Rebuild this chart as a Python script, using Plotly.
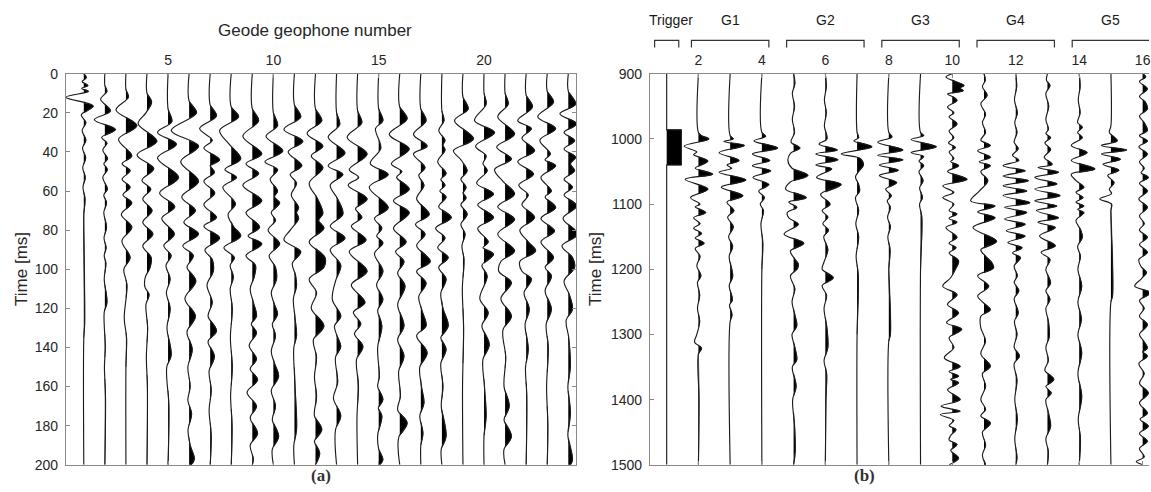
import plotly.graph_objects as go

# ---------------- Panel (a): Geode geophones, time 0-200 ms ----------------
# each trace: (time ms, amplitude in trace-spacing units) read at extrema
a01 = [(0,0),(2,0.12),(4,-0.08),(6,0.2),(7.5,-0.1),(9,0.22),(12,-0.85),(16.5,0.45),(21,-0.12),(25,0.1),(29,-0.08),(34,0.1),(38,-0.06),(43,0.09),(48,-0.05),(53,0.07),(58,-0.04),(64,0.06),(72,0),(128,0.04),(135,0),(200,0)]
a02 = [(0,0),(6,0),(9,0.1),(13,-0.2),(19,0.27),(23.5,-0.5),(28.5,0.5),(32.5,-0.15),(35.5,0.1),(39,-0.1),(43.5,0.13),(46,-0.05),(49,0.12),(53,-0.1),(59,0.12),(62,-0.05),(66,0.08),(71,-0.05),(78.5,0.08),(84,-0.04),(89,0.06),(93,-0.03),(97,0.05),(105,-0.03),(117,0.1),(122,-0.03),(140,0.02),(150,-0.02),(165,0.03),(200,0)]
a03 = [(0,0),(8,0),(12,0.12),(18.5,-0.47),(26.5,0.52),(33.5,-0.35),(42,0.28),(46,-0.18),(49.5,0.2),(54,-0.18),(58,0.2),(62,-0.14),(66,0.28),(72,-0.22),(78.5,0.28),(85.5,-0.19),(94,0.2),(100,-0.1),(108,0.05),(125,-0.08),(135,0.03),(150,0),(200,0)]
a04 = [(0,0),(10,0),(14.5,0.22),(20,-0.05),(25.5,-0.42),(34.5,0.47),(41.5,-0.47),(48.5,0.32),(54.5,-0.24),(59,0.18),(64,-0.2),(70,0.24),(76,-0.2),(82,0.28),(88,-0.2),(94,0.2),(99,0.15),(104,-0.08),(109,-0.1),(113,0.1),(118,-0.05),(130,0.03),(145,-0.03),(160,0.02),(200,0)]
a05 = [(0,0),(18,0),(24.5,0.18),(30,-0.5),(36,0.4),(43,-0.5),(53,0.5),(61,-0.4),(68,0.32),(74,-0.3),(82,0.3),(88,-0.2),(93,0.15),(98,-0.1),(105,0.1),(112,-0.08),(120,0.1),(130,-0.05),(144,0.15),(150,-0.06),(170,0.04),(200,0)]
a06 = [(0,0),(14,0),(20,0.35),(29,-0.85),(37,0.45),(45,-0.4),(55,0.45),(63,-0.35),(70,0.3),(76,-0.25),(82,0.45),(88,-0.3),(93,0.2),(99,-0.1),(106,0.32),(115,-0.2),(124,0.3),(132,-0.1),(141,0.15),(150,-0.06),(160,0.05),(167,-0.06),(174,0.12),(182,-0.05),(190,0.05),(197,0.25),(200,0.1)]
a07 = [(0,0),(16,0),(21.5,0.3),(28,-0.5),(34,0.1),(38,-0.3),(44,0.45),(47,0),(50.5,0.2),(55,-0.3),(61,0.22),(67,-0.3),(73.5,0.3),(78,-0.3),(84,0.45),(90,-0.25),(95,0.1),(101,0.15),(108,-0.15),(117,0.1),(124,-0.1),(131.5,0.3),(137,-0.1),(144.5,0.2),(152,-0.05),(162,0.05),(172,-0.05),(185,0.05),(200,0)]
a08 = [(0,0),(17,0),(22,0.35),(29,-0.55),(36,-0.1),(43.5,0.45),(49,-0.3),(53,0.25),(58,-0.4),(66.5,0.2),(72,-0.15),(78,0.1),(83,0.45),(89,-0.35),(94,0.15),(98,-0.05),(104,0.1),(110,-0.05),(120,0.05),(135,-0.04),(150,0.05),(165,-0.03),(180,0.04),(200,0)]
a09 = [(0,0),(18,0),(24,0.3),(32,-0.45),(41,0.45),(46,-0.3),(51,0.3),(57,-0.45),(65,0.45),(71,-0.3),(78.5,0.35),(83,-0.2),(87,0.45),(93,-0.3),(98,0.15),(103.5,0.1),(110,-0.1),(117,0.05),(124,0.2),(128,-0.05),(132.5,0.2),(139,-0.15),(146,0.2),(151,-0.1),(156.5,0.25),(163,-0.25),(170,0.2),(176,-0.1),(184,0.25),(190,-0.1),(197,0.05),(200,0)]
a10 = [(0,0),(20,0),(26.5,0.2),(32,-0.35),(39.5,0.45),(45,-0.4),(49,0.2),(54,-0.15),(60,0.2),(63,0.05),(66,0.3),(71,-0.1),(75,0.1),(80,-0.25),(87,0.3),(93,-0.2),(99,0.1),(105,0.15),(112,-0.1),(118,0.05),(123,0.2),(128,-0.05),(134,0.1),(142,-0.1),(148,0.05),(154.7,0.25),(162,-0.1),(170,0.1),(177,-0.05),(185.5,0.25),(192,-0.05),(200,0)]
a11 = [(0,0),(16,0),(22,0.3),(28.5,-0.5),(34.5,0.4),(40,-0.3),(47,0.35),(51.5,-0.2),(56,0.1),(62,-0.15),(68.5,0.2),(71,0.1),(74,0.2),(80,-0.2),(85,-0.5),(91,0.3),(97,-0.1),(103,0.05),(108.5,0.1),(115,-0.05),(125,0.03),(134,0.1),(140,-0.03),(160,0.03),(182,0.1),(190,-0.03),(200,0)]
a12 = [(0,0),(18,0),(24,0.3),(30.5,-0.4),(37,0.35),(42,-0.2),(48,0.35),(56,-0.3),(64,0.1),(71.5,0.35),(75,0.15),(79,0.4),(86,-0.3),(94,0.45),(99,0.4),(105,-0.3),(112,0.05),(120,-0.2),(129,0.4),(136,-0.1),(145,0.05),(155,-0.05),(165,0.05),(175,-0.05),(182,0.3),(188,-0.05),(194,0.2),(200,0)]
a13 = [(0,0),(20,0),(26,0.15),(32.5,-0.4),(40.5,0.4),(47,-0.4),(51.5,0.3),(57,-0.3),(64,0.05),(71.8,0.3),(78,-0.3),(84,0.4),(90,-0.3),(98,0.2),(106,-0.05),(115.5,-0.2),(124,0.2),(129,-0.1),(134,0.02),(139.5,0.2),(145,-0.05),(158,0.05),(166,-0.15),(175,0.2),(182,-0.05),(200,0)]
a14 = [(0,0),(19,0),(25,0.2),(32.5,-0.5),(41,0.45),(49,-0.4),(53,0.05),(57,-0.45),(64,0.45),(69,-0.1),(73.5,0.2),(78,-0.3),(85,0.4),(91,-0.4),(101,0.45),(108,-0.3),(117,0.35),(122,-0.2),(128,0.15),(133,-0.15),(139.5,0.25),(146,-0.05),(160,0.04),(175,-0.03),(200,0)]
a15 = [(0,0),(18,0),(24,0.2),(28,-0.15),(38,0.1),(46,-0.4),(51.5,0.45),(58,-0.45),(68.5,0.45),(74,-0.2),(79,0.15),(83,-0.1),(86.5,0.2),(92,-0.2),(101,0.2),(108,-0.1),(115.5,0.2),(121,-0.05),(129,0.15),(140,-0.05),(155,0.03),(160,-0.05),(166.7,0.2),(171,-0.02),(175,0.15),(185,-0.05),(192,0),(197.4,0.2),(200,0.05)]
a16 = [(0,0),(17,0),(23,0.35),(31,-0.5),(38.5,0.45),(46,-0.4),(50,0.1),(53,-0.15),(59,0.45),(65,-0.3),(71,0.45),(79,-0.3),(86,0.3),(91,-0.2),(96,0.2),(102,-0.1),(108.6,0.25),(118,-0.1),(129,0.2),(136,-0.1),(144.5,0.2),(152,-0.05),(165,0.03),(172,-0.1),(178.6,0.35),(186,-0.05),(200,0)]
a17 = [(0,0),(18,0),(24,0.25),(31,-0.35),(37,0.3),(41,-0.35),(48,0.2),(52,-0.1),(57,0.15),(64,-0.2),(72,0.4),(77,-0.25),(82,0.2),(88,-0.2),(96,0.45),(101,-0.2),(107,0.25),(114,-0.1),(121,0.05),(129,0.25),(134,-0.2),(142.7,0.3),(150,-0.05),(160,0.03),(168.4,0.15),(175,-0.05),(183.8,0.1),(190,0),(200,0)]
a18 = [(0,0),(19,0),(24,0.1),(29,-0.15),(34,0.15),(36.5,0.05),(39,0.15),(45,-0.2),(51,0.2),(54,-0.05),(57,0.15),(60,-0.1),(63,0.2),(68,-0.15),(73.5,0.45),(79,-0.3),(84,0.15),(89,-0.2),(94,0.3),(99,-0.15),(105,0.2),(112,-0.05),(120,0.05),(129,0.3),(135,-0.05),(141,0.2),(148,-0.05),(160,0.05),(170,-0.03),(185.5,0.2),(192,-0.03),(200,0)]
a19 = [(0,0),(12,0),(18,0.25),(24,-0.4),(33.3,0.5),(39.3,-0.45),(44,-0.1),(49.6,0.2),(54,-0.1),(58,0.15),(61,0.0),(63.5,0.15),(67,-0.1),(71.8,0.2),(77,-0.1),(82,0.1),(88,-0.05),(95,0.05),(110,-0.03),(130,0.03),(160,-0.02),(200,0)]
a20 = [(0,0),(10,0),(15.5,0.1),(24,-0.45),(30,0.5),(37,-0.4),(42,0.1),(46,-0.05),(49.6,0.15),(56,-0.35),(61.5,0.45),(67,-0.3),(73.5,0.45),(79,-0.3),(86,0.2),(89,-0.05),(92.3,0.45),(98,-0.1),(103.4,0.15),(115,-0.2),(122.2,0.2),(129,-0.1),(138.5,0.25),(146,-0.05),(160,0.02),(175.2,0.1),(185,0),(200,0)]
a21 = [(0,0),(10,0),(15.5,0.15),(22,-0.35),(30.8,0.45),(37.5,-0.4),(43.6,0.3),(49,-0.5),(55,-0.1),(61.5,0.45),(68,-0.35),(74.4,0.45),(82,-0.35),(90.6,0.45),(96,-0.2),(101,-0.3),(106.8,0.3),(115,-0.2),(124,0.3),(131,-0.1),(145,0.03),(160,-0.05),(170,0.2),(177,-0.05),(185.5,0.3),(192,-0.05),(200,0)]
a22 = [(0,0),(11,0),(17,0.3),(24,-0.4),(28,0.25),(33,-0.2),(39.3,0.4),(45,-0.4),(51.3,0.35),(57,-0.35),(62,0.1),(67,-0.2),(73.5,0.4),(80,-0.3),(86,0.1),(90.6,0.45),(96,-0.3),(101,-0.2),(105,0.25),(112,-0.1),(120.5,0.15),(128,-0.05),(141,0.1),(150,-0.03),(165,0.03),(200,0)]
a23 = [(0,0),(9,0),(14.5,0.3),(22,-0.45),(28,0.4),(34,-0.35),(41,0.15),(44,-0.1),(47,0.4),(53,-0.3),(60,0.2),(63,-0.1),(68.4,0.4),(74,-0.3),(80.4,0.35),(86,-0.3),(94,0.3),(99,-0.1),(103.4,0.2),(111,-0.1),(120.5,0.2),(128,-0.05),(140,0.05),(160,-0.03),(180,0.03),(200,0)]
a24 = [(0,0),(9,0),(15.5,0.35),(20.5,-0.4),(25.6,0.4),(30,-0.2),(34.2,0.3),(38.5,-0.2),(42.7,0.35),(46,0.1),(49.6,0.3),(54,-0.2),(58,0.2),(62,-0.2),(67.5,0.4),(74,-0.25),(82,0.45),(88,-0.3),(94,0.2),(99,0.3),(106,-0.2),(113,0.05),(120.5,0.2),(126,-0.1),(135,0.02),(149.6,0.1),(160,-0.02),(173.5,0.1),(185,-0.02),(197.4,0.2),(200,0.1)]

geode_traces = [a01,a02,a03,a04,a05,a06,a07,a08,a09,a10,a11,a12,a13,a14,a15,a16,a17,a18,a19,a20,a21,a22,a23,a24]
geode_numbers = list(range(1, 25))
geode_ticks = [5, 10, 15, 20]
geode_time_ticks = [0, 20, 40, 60, 80, 100, 120, 140, 160, 180, 200]

# ---------------- Panel (b): trigger + G1..G5, time 900-1500 ms ----------------
b01 = [(900,0),(986,0),(986,0.46),(1040,0.46),(1040,0),(1500,0)]   # trigger pulse
b02 = [(900,0),(990,0),(995,0.1),(1000,0.33),(1011,-0.45),(1020,-0.05),(1024,-0.15),(1034,0.3),(1045,-0.1),(1054,0.45),(1062,-0.42),(1077,0.3),(1090,-0.25),(1100,0.05),(1104,-0.1),(1113,0.23),(1121,-0.15),(1130,0.05),(1137,-0.15),(1145,0.1),(1152,-0.1),(1160,0.18),(1168,-0.1),(1180,0.05),(1195,-0.05),(1210,0.08),(1220,-0.03),(1240,0.04),(1260,-0.03),(1280,0.04),(1300,-0.05),(1312,-0.12),(1321,0.1),(1330,0),(1400,0.02),(1500,0)]
b03 = [(900,0),(995,0),(1000,0.1),(1004,-0.2),(1010,0.45),(1021,-0.35),(1033,0.28),(1040,-0.1),(1045,0.05),(1051,-0.35),(1063,0.5),(1074,-0.28),(1087,0.4),(1097,-0.1),(1110,0.12),(1120,-0.08),(1135,0.1),(1150,-0.05),(1165,0.08),(1180,-0.03),(1211,0.08),(1225,-0.03),(1247,0.07),(1255,-0.02),(1270,0.06),(1280,0),(1500,0)]
b04 = [(900,0),(990,0),(996,0.12),(1003,-0.25),(1014,0.5),(1023,-0.3),(1033,0.25),(1041,-0.3),(1049,0.28),(1059,-0.28),(1070,0.22),(1080,-0.1),(1090,0.08),(1100,-0.05),(1110,0.05),(1130,-0.03),(1160,0.03),(1200,0),(1500,0)]
b05 = [(900,0),(915,0.04),(930,-0.04),(950,0.03),(970,-0.04),(990,0.03),(1005,-0.08),(1014,0.2),(1022,-0.1),(1033,-0.18),(1045,-0.05),(1056,0.45),(1066,-0.1),(1077,-0.25),(1090,0.4),(1097,-0.15),(1105,0.1),(1113,-0.2),(1121,-0.15),(1131,0.15),(1146,-0.3),(1160,0.32),(1172,-0.1),(1185,0.05),(1192,0.15),(1199,0.12),(1210,-0.1),(1230,0.04),(1250,-0.05),(1270,0.04),(1287,0.1),(1300,-0.05),(1320,0.04),(1339,0.1),(1350,-0.04),(1380,0.08),(1400,-0.03),(1440,0.03),(1480,0.05),(1500,0)]
b06 = [(900,0),(920,0.03),(940,-0.03),(960,0.03),(980,-0.03),(1000,0.05),(1008,-0.2),(1017,0.38),(1023,-0.3),(1032,0.4),(1040,-0.3),(1046,0.2),(1059,-0.28),(1070,0.5),(1085,-0.15),(1100,0.15),(1110,-0.1),(1120,0.08),(1130,-0.08),(1140,0.1),(1150,-0.05),(1170,0.08),(1190,-0.05),(1200,-0.1),(1213,0.25),(1225,-0.1),(1240,0.04),(1260,-0.04),(1290,0.05),(1320,0.08),(1340,-0.04),(1360,0.04),(1400,0.02),(1500,0)]
b07 = [(900,0),(990,0),(998,0.05),(1003,-0.1),(1012,0.47),(1023,-0.5),(1030,0.1),(1040,0.2),(1050,0.05),(1058,-0.05),(1070,0.05),(1080,0.08),(1090,-0.05),(1110,0.05),(1130,-0.04),(1150,0.05),(1180,-0.03),(1210,0.04),(1300,0),(1500,0)]
b08 = [(900,0),(990,0),(997,0.1),(1005,-0.35),(1017,0.45),(1025,-0.35),(1032,0.45),(1040,-0.3),(1048,0.3),(1056,-0.3),(1067,0.25),(1077,-0.1),(1087,0.08),(1095,-0.05),(1105,0.05),(1120,-0.04),(1135,0.05),(1150,-0.03),(1170,0.04),(1200,0),(1300,0.05),(1310,0),(1500,0)]
b09 = [(900,0),(990,0),(995,0.1),(1001,-0.3),(1012,0.5),(1021,-0.3),(1027,0.1),(1034,-0.05),(1041,0.1),(1050,-0.05),(1064,0.08),(1075,-0.03),(1090,0.06),(1100,-0.03),(1120,0.04),(1200,0),(1500,0)]
b10 = [(900,0),(905,-0.2),(912,0.1),(918,0.37),(922,0.25),(926,0.35),(931,-0.15),(936,0.05),(941,0.15),(951,-0.15),(960,0.05),(966,-0.1),(977,0.15),(988,-0.1),(998,0.05),(1006,-0.12),(1013,0.1),(1020,-0.1),(1030,0.05),(1035,-0.05),(1041,0.2),(1050,-0.15),(1062,0.47),(1072,-0.3),(1082,0.05),(1090,-0.3),(1100,0.05),(1110,-0.1),(1115,0.15),(1122,-0.1),(1128,0.15),(1136,-0.2),(1151,0.15),(1160,-0.1),(1167,0.12),(1175,-0.1),(1187,0.2),(1200,0.1),(1213,-0.05),(1226,-0.3),(1239,0.15),(1254,-0.15),(1267,0.2),(1282,-0.18),(1292,0.3),(1305,-0.1),(1320,0.05),(1336,-0.25),(1349,0.25),(1357,-0.1),(1364,0.2),(1369,-0.05),(1374,0.2),(1385,-0.15),(1400,0.25),(1410,-0.35),(1418,0.25),(1423,-0.38),(1432,0.05),(1440,-0.1),(1446,0.12),(1455,-0.05),(1462,-0.1),(1469,0.15),(1478,-0.05),(1490,0.2),(1500,-0.1)]
b11 = [(900,0),(910,0.04),(920,-0.05),(933,0.1),(946,-0.1),(962,0.05),(975,-0.05),(990,0.05),(1002,-0.1),(1010,0.2),(1018,-0.2),(1028,0.2),(1035,-0.15),(1041,0.2),(1050,-0.1),(1064,0.12),(1080,-0.15),(1095,-0.42),(1103,0.35),(1112,-0.2),(1121,0.35),(1136,-0.35),(1157,0.4),(1170,-0.1),(1180,0.05),(1190,0.25),(1198,0.3),(1210,-0.2),(1226,0.15),(1241,-0.2),(1250,-0.05),(1262,0.2),(1272,-0.1),(1290,-0.1),(1310,0.05),(1330,-0.1),(1349,0.2),(1360,-0.05),(1380,0.05),(1400,-0.1),(1415,0.05),(1425,-0.1),(1436,0.2),(1450,-0.05),(1470,0.05),(1485,-0.05),(1500,0.05)]
b12 = [(900,0),(920,0.03),(940,-0.04),(960,0.05),(975,-0.03),(990,0.04),(1005,-0.05),(1015,0.08),(1025,-0.1),(1033,0.1),(1041,-0.4),(1049,0.3),(1057,-0.4),(1064,0.4),(1072,-0.4),(1080,0.35),(1087,-0.4),(1098,0.45),(1105,-0.35),(1113,0.35),(1123,-0.35),(1131,0.3),(1141,-0.3),(1149,0.3),(1159,-0.25),(1167,0.2),(1175,-0.1),(1182,0.15),(1195,-0.05),(1210,0.05),(1220,-0.05),(1233,0.1),(1245,-0.05),(1267,0.08),(1280,-0.04),(1300,0.04),(1320,-0.05),(1333,0.12),(1345,-0.05),(1370,0.04),(1400,-0.03),(1430,0.05),(1460,-0.03),(1490,0.04),(1500,0)]
b13 = [(900,0),(910,-0.03),(918,0.08),(930,-0.05),(950,0.04),(970,-0.05),(985,0.03),(992,-0.05),(998,0.1),(1006,-0.08),(1016,0.1),(1028,-0.1),(1039,0.15),(1044,-0.3),(1051,0.35),(1059,-0.4),(1069,0.3),(1077,-0.4),(1087,0.4),(1095,-0.4),(1103,0.3),(1110,-0.35),(1121,0.35),(1128,-0.3),(1136,0.25),(1149,-0.25),(1164,0.25),(1174,-0.2),(1185,0.08),(1200,-0.05),(1221,0.1),(1233,-0.05),(1246,0.08),(1260,-0.05),(1280,0.03),(1303,0.06),(1320,-0.05),(1340,0.03),(1355,-0.08),(1369,0.2),(1380,-0.05),(1390,0.12),(1400,-0.05),(1420,0.03),(1441,0.1),(1460,-0.05),(1480,0.03),(1500,0)]
b14 = [(900,0),(920,0.03),(940,-0.03),(960,0.03),(975,-0.05),(982,0.1),(990,-0.05),(998,0.1),(1010,-0.25),(1021,0.25),(1033,-0.25),(1046,0.5),(1054,-0.25),(1064,-0.1),(1074,0.15),(1082,-0.1),(1090,0.12),(1097,-0.1),(1103,0.15),(1108,-0.05),(1113,0.15),(1125,-0.1),(1140,0.05),(1151,0.1),(1165,-0.05),(1180,0.04),(1200,-0.04),(1226,0.08),(1250,-0.04),(1277,0.07),(1300,-0.04),(1328,0.08),(1360,-0.04),(1395,0.08),(1430,-0.03),(1460,0.04),(1500,0)]
b15 = [(900,0),(980,0),(990,-0.05),(1003,0.2),(1010,-0.3),(1017,0.5),(1023,-0.3),(1031,0.3),(1039,-0.25),(1048,0.25),(1056,-0.1),(1067,0.1),(1077,-0.05),(1084,0.02),(1092,-0.35),(1100,0.02),(1110,0),(1241,0.05),(1250,0),(1500,0)]
b16 = [(900,0),(905,0.1),(912,-0.1),(923,0.15),(935,-0.1),(943,0.08),(954,0.15),(965,-0.1),(975,0.05),(987,0.15),(995,-0.1),(1003,0.15),(1012,-0.12),(1023,0.15),(1035,-0.1),(1045,0.05),(1052,-0.05),(1059,0.18),(1068,-0.1),(1080,0.15),(1092,-0.12),(1105,0.15),(1118,-0.1),(1130,0.05),(1140,-0.1),(1151,0.15),(1162,-0.1),(1174,0.15),(1185,-0.12),(1196,-0.05),(1205,0.12),(1215,-0.05),(1226,-0.25),(1236,0.25),(1248,-0.1),(1260,0.05),(1272,-0.1),(1285,0.15),(1300,-0.1),(1310,0.03),(1321,0.15),(1327,0),(1333,0.15),(1345,-0.12),(1360,0.05),(1375,-0.1),(1390,0.18),(1405,-0.1),(1421,0.15),(1430,-0.08),(1441,0.18),(1452,-0.1),(1464,0.15),(1475,-0.1),(1488,0.05),(1495,-0.2),(1500,0)]

field_traces = [b02,b03,b04,b05,b06,b07,b08,b09,b10,b11,b12,b13,b14,b15,b16]
field_numbers = list(range(2, 17))
trigger_trace = b01
trigger_number = 1
field_ticks = [2, 4, 6, 8, 10, 12, 14, 16]
field_time_ticks = [900, 1000, 1100, 1200, 1300, 1400, 1500]
groups = [("Trigger", [1]), ("G1", [2, 3, 4]), ("G2", [5, 6, 7]), ("G3", [8, 9, 10]),
          ("G4", [11, 12, 13]), ("G5", [14, 15, 16])]


def wiggle(traces, offsets):
    lx, ly, fx, fy = [], [], [], []
    for off, tr in zip(offsets, traces):
        ts = [p[0] for p in tr]
        am = [p[1] for p in tr]
        lx += [off + a for a in am] + [None]
        ly += ts + [None]
        n = len(tr)
        i = 0
        while i < n:
            if am[i] > 0:
                j = i
                while j + 1 < n and am[j + 1] > 0:
                    j += 1
                if i > 0:
                    t0, a0, t1, a1 = ts[i - 1], am[i - 1], ts[i], am[i]
                    ts_ = t0 + (t1 - t0) * (-a0) / (a1 - a0)
                else:
                    ts_ = ts[i]
                if j + 1 < n:
                    t0, a0, t1, a1 = ts[j], am[j], ts[j + 1], am[j + 1]
                    te_ = t0 + (t1 - t0) * a0 / (a0 - a1)
                else:
                    te_ = ts[j]
                px = [off] + [off + a for a in am[i:j + 1]] + [off]
                py_ = [ts_] + ts[i:j + 1] + [te_]
                fx += px + [None]
                fy += py_ + [None]
                i = j + 1
            else:
                i += 1
    return lx, ly, fx, fy


fig = go.Figure()

LINE = "#1c1c1c"


def add_panel(traces, offsets, xa, ya, shape):
    lx, ly, fx, fy = wiggle(traces, offsets)
    fig.add_trace(go.Scatter(x=fx, y=fy, mode="lines", fill="toself", fillcolor="black",
                             line=dict(color="black", width=0.6, shape=shape),
                             xaxis=xa, yaxis=ya, hoverinfo="skip", showlegend=False))
    fig.add_trace(go.Scatter(x=lx, y=ly, mode="lines",
                             line=dict(color=LINE, width=1.15, shape=shape),
                             xaxis=xa, yaxis=ya, hoverinfo="skip", showlegend=False))


add_panel(geode_traces, geode_numbers, "x", "y", "spline")
add_panel(field_traces, field_numbers, "x2", "y2", "spline")
add_panel([trigger_trace], [trigger_number], "x2", "y2", "linear")

W, H = 1151, 492


def py(px):
    # paper y for a target pixel row (calibrated to the rendered page)
    return 1 - ((px - 7.7) / 0.965) / H


ax_col = "#8a8a8a"
tick_font = dict(family="Liberation Sans, Arial, sans-serif", size=14, color="#262626")
top, bot = py(73.3), py(463.3)

common_x = dict(showline=True, linecolor=ax_col, linewidth=1, mirror="ticks", ticks="inside",
                ticklen=4, tickcolor=ax_col, side="top", showgrid=False, zeroline=False,
                tickfont=tick_font, ticklabelstandoff=2, ticklabeloverflow="allow")
common_y = dict(showline=True, linecolor=ax_col, linewidth=1, ticks="inside", ticklen=4,
                tickcolor=ax_col, showgrid=False, zeroline=False, tickfont=tick_font,
                ticklabelstandoff=4)

fig.update_layout(
    width=W, height=H, margin=dict(l=0, r=0, t=0, b=0),
    paper_bgcolor="white", plot_bgcolor="white",
    xaxis=dict(domain=[66 / W, 577.3 / W], range=[0.15, 24.38], tickvals=geode_ticks,
               anchor="y", **common_x),
    yaxis=dict(domain=[bot, top], range=[200, 0], tickvals=geode_time_ticks, anchor="x",
               mirror="ticks", **common_y),
    xaxis2=dict(domain=[651 / W, 1.0], range=[0.47, 16.2], tickvals=field_ticks,
                anchor="y2", **common_x),
    yaxis2=dict(domain=[bot, top], range=[1500, 900], tickvals=field_time_ticks, anchor="x2",
                mirror=False, **common_y),
)

lab_font = dict(family="Liberation Sans, Arial, sans-serif", size=17, color="#262626")
panel_font = dict(family="Liberation Serif, serif", size=17, color="#333")
ann = [
    dict(text="Geode geophone number", x=316 / W, y=py(30), xref="paper", yref="paper",
         showarrow=False, font=lab_font, xanchor="center", yanchor="middle"),
    dict(text="Time [ms]", x=22 / W, y=py(268), xref="paper", yref="paper", textangle=-90,
         showarrow=False, font=lab_font, xanchor="center", yanchor="middle"),
    dict(text="Time [ms]", x=597 / W, y=py(268), xref="paper", yref="paper", textangle=-90,
         showarrow=False, font=lab_font, xanchor="center", yanchor="middle"),
    dict(text="<b>(a)</b>", x=(66 + 577.3) / 2 / W, y=py(474.5), xref="paper", yref="paper",
         showarrow=False, font=panel_font, xanchor="center", yanchor="middle"),
    dict(text="<b>(b)</b>", x=866 / W, y=py(474.5), xref="paper", yref="paper",
         showarrow=False, font=panel_font, xanchor="center", yanchor="middle"),
]

shapes = []
yb_top, yb_leg = py(40), py(47)
for name, members in groups:
    pad = 0.38 if len(members) == 1 else 0.22
    x0, x1 = min(members) - pad, max(members) + pad
    shapes.append(dict(type="path", xref="x2", yref="paper",
                       path=f"M {x0},{yb_leg} L {x0},{yb_top} L {x1},{yb_top} L {x1},{yb_leg}",
                       line=dict(color="#333", width=1.2)))
    ann.append(dict(text=name, x=(x0 + x1) / 2 + (0.15 if len(members) == 1 else 0),
                    y=py(20), xref="x2", yref="paper",
                    showarrow=False, font=dict(family="Liberation Sans, Arial, sans-serif",
                                               size=14, color="#1a1a1a"),
                    xanchor="center", yanchor="middle"))

fig.update_layout(annotations=ann, shapes=shapes)
fig.write_html("out.html")
